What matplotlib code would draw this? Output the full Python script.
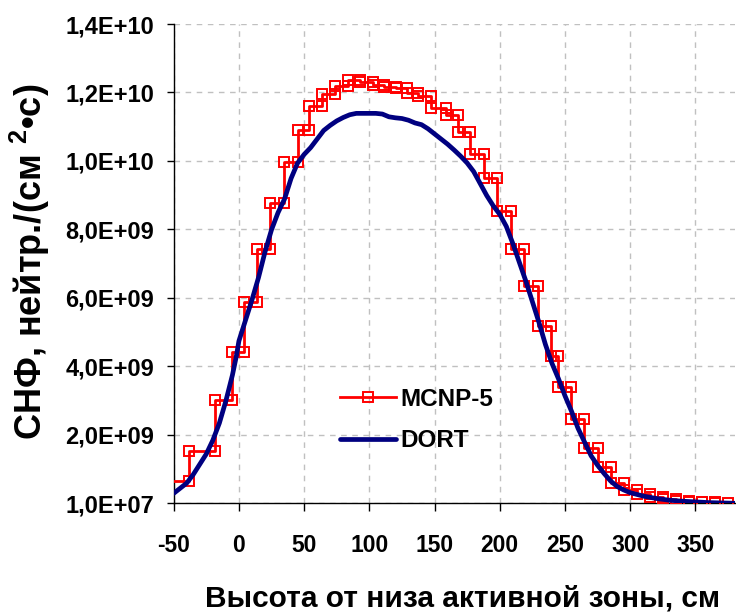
import matplotlib

matplotlib.use("Agg")

import matplotlib.pyplot as plt
from matplotlib.ticker import FuncFormatter

plt.rcParams["font.family"] = ["Liberation Sans", "DejaVu Sans"]
plt.rcParams["font.weight"] = "bold"
plt.rcParams["axes.unicode_minus"] = False
plt.rcParams["mathtext.fontset"] = "custom"
plt.rcParams["mathtext.rm"] = "Liberation Sans:bold"
plt.rcParams["mathtext.bf"] = "Liberation Sans:bold"

# MCNP-5: bin edges (cm) and flux per bin (x1e9)
mcnp_edges = [-60, -38, -18, -5, 4, 14, 24, 34.5, 45, 54,
              63.5, 73.5, 83.5, 92.5, 102.5, 111, 120.5, 128.5, 137.5, 147.5,
              158.5, 168, 177.5, 188, 198, 208.5, 218.5, 229, 239, 244.5,
              254.5, 264.5, 275, 285, 295, 305.5, 315, 325, 335, 345,
              355, 365, 375]
mcnp_vals = [0.66, 1.54, 3.03, 4.44, 5.9, 7.45, 8.78, 9.98, 10.9, 11.61,
             11.97, 12.2, 12.38, 12.32, 12.22, 12.16, 12.15, 12.0, 11.9, 11.56,
             11.36, 10.85, 10.22, 9.51, 8.54, 7.44, 6.36, 5.2, 4.3, 3.4,
             2.47, 1.62, 1.06, 0.61, 0.41, 0.27, 0.19, 0.13, 0.08, 0.05,
             0.04, 0.03]

# DORT
dort_x = [-50, -45, -40, -35, -30, -25, -20, -15, -10, -5, -2, 0, 5, 10, 15, 20,
          25, 30, 35, 40, 45, 50, 55, 60, 65, 70, 75, 80, 85, 90, 95, 100,
          105, 110, 115, 120, 125, 130, 135, 140, 145, 150, 155, 160, 165, 170,
          175, 180, 185, 190, 195, 200, 205, 210, 215, 220, 225, 230, 235, 240,
          245, 250, 255, 260, 265, 270, 275, 280, 285, 290, 295, 300, 310, 320,
          330, 340, 350, 360, 370, 380]
dort_y = [0.3, 0.45, 0.6, 0.85, 1.15, 1.45, 1.85, 2.35, 3.0, 3.75, 4.3, 4.75, 5.35, 5.95, 6.6, 7.35,
          8.0, 8.5, 8.9, 9.5, 9.95, 10.2, 10.4, 10.65, 10.9, 11.05, 11.18, 11.28, 11.36, 11.4, 11.4, 11.4,
          11.4, 11.38, 11.3, 11.27, 11.25, 11.2, 11.12, 11.07, 10.95, 10.8, 10.65, 10.5, 10.33, 10.15,
          9.95, 9.7, 9.35, 9.0, 8.7, 8.45, 8.1, 7.6, 7.05, 6.5, 5.9, 5.3, 4.65, 4.1,
          3.65, 3.15, 2.7, 2.2, 1.8, 1.4, 1.12, 0.88, 0.66, 0.5, 0.4, 0.32, 0.22, 0.15,
          0.1, 0.07, 0.05, 0.03, 0.02, 0.01]

x_label = "Высота от низа активной зоны, см"
y_label = r"СНФ, нейтр./(см $\mathrm{^{2}}$•с)"


def step_points(edges, vals):
    xs, ys = [], []
    for i, v in enumerate(vals):
        xs += [edges[i], edges[i + 1]]
        ys += [v * 1e9, v * 1e9]
    return xs, ys


fig = plt.figure(figsize=(7.36, 6.16), dpi=100)
ax = fig.add_axes([0.236, 0.183, 0.762, 0.778])

mx, my = step_points(mcnp_edges, mcnp_vals)
ax.plot(mx, my, color="#ff0000", linewidth=2.0, marker="s", markersize=7.5,
        markerfacecolor="none", markeredgewidth=1.4, label="MCNP-5", zorder=3)
ax.plot(dort_x, [v * 1e9 for v in dort_y], color="#000080", linewidth=3.4,
        solid_capstyle="round", label="DORT", zorder=4)

ax.set_xlim(-50, 380)
ax.set_ylim(1e7, 1.401e10)
ax.set_xticks(range(-50, 351, 50))
ax.set_yticks([1e7 + k * 2e9 for k in range(8)])
ax.yaxis.set_major_formatter(FuncFormatter(lambda v, _: f"{v:.1E}".replace(".", ",")))

ax.grid(True, color="#c0c0c0", linestyle=(0, (4, 4)), linewidth=1.0)
ax.set_axisbelow(True)
for side in ("top", "right"):
    ax.spines[side].set_visible(False)
for side in ("left", "bottom"):
    ax.spines[side].set_linewidth(1.0)
    ax.spines[side].set_color("black")

ax.tick_params(axis="y", labelsize=17, length=5, width=1, pad=9)
ax.tick_params(axis="x", labelsize=16.5, length=6, width=1, pad=16)

fig.text(0.628, 0.029, x_label, ha="center", va="center", fontsize=21.5, fontweight="bold")
fig.text(0.040, 0.575, y_label, ha="center", va="center", rotation=90, fontsize=26,
         fontweight="bold")

leg = ax.legend(loc="center left", bbox_to_anchor=(0.446, 0.318),
                bbox_transform=fig.transFigure, frameon=False, fontsize=17.5,
                handlelength=2.3, handletextpad=0.15, labelspacing=0.75,
                borderpad=0, numpoints=1)

fig.savefig("out.png", dpi=100)
